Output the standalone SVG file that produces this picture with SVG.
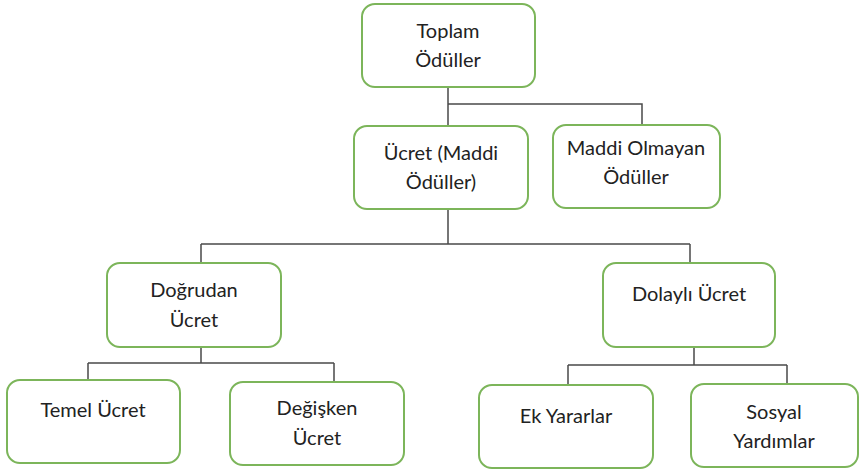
<svg xmlns="http://www.w3.org/2000/svg" width="860" height="472" viewBox="0 0 860 472">
  <style>
    .box { fill: #ffffff; stroke: #7cb55a; stroke-width: 2; }
    .lbl { font-family: Lato, "Open Sans", "Liberation Sans", sans-serif; font-size: 20px; fill: #222222; text-anchor: middle; }
    .wire { fill: none; stroke: #4a4a4a; stroke-width: 1.5; }
  </style>
  <rect width="860" height="472" fill="#ffffff"/>

  <g id="connectors">
    <path class="wire" d="M448 87 V126 M448 104 H642 V125"/>
    <path class="wire" d="M448 209 V244 M201 244 H690 M201 244 V263 M690 244 V263"/>
    <path class="wire" d="M201 347 V363 M88 363 H334 M88 363 V380 M334 363 V382"/>
    <path class="wire" d="M694 347 V365 M568 365 H787 M568 365 V385 M787 365 V384"/>
  </g>

  <g id="toplam">
    <rect class="box" x="362" y="4" width="173" height="83" rx="13"/>
    <text class="lbl" x="448" y="38">Toplam</text>
    <text class="lbl" x="448" y="67">Ödüller</text>
  </g>

  <g id="ucret">
    <rect class="box" x="354" y="126" width="174" height="83" rx="13"/>
    <text class="lbl" x="441" y="160">Ücret (Maddi</text>
    <text class="lbl" x="441" y="189">Ödüller)</text>
  </g>

  <g id="maddi-olmayan">
    <rect class="box" x="553" y="125" width="167" height="83" rx="13"/>
    <text class="lbl" x="636" y="155">Maddi Olmayan</text>
    <text class="lbl" x="636" y="184">Ödüller</text>
  </g>

  <g id="dogrudan">
    <rect class="box" x="107" y="263" width="174" height="84" rx="13"/>
    <text class="lbl" x="194" y="297">Doğrudan</text>
    <text class="lbl" x="194" y="327">Ücret</text>
  </g>

  <g id="dolayli">
    <rect class="box" x="603" y="263" width="172" height="84" rx="13"/>
    <text class="lbl" x="689" y="301">Dolaylı Ücret</text>
  </g>

  <g id="temel">
    <rect class="box" x="7" y="380" width="173" height="83" rx="13"/>
    <text class="lbl" x="93" y="417">Temel Ücret</text>
  </g>

  <g id="degisken">
    <rect class="box" x="230" y="382" width="174" height="83" rx="13"/>
    <text class="lbl" x="317" y="415">Değişken</text>
    <text class="lbl" x="317" y="445">Ücret</text>
  </g>

  <g id="ek-yararlar">
    <rect class="box" x="479" y="385" width="174" height="83" rx="13"/>
    <text class="lbl" x="566" y="423">Ek Yararlar</text>
  </g>

  <g id="sosyal">
    <rect class="box" x="691" y="384" width="167" height="83" rx="13"/>
    <text class="lbl" x="774" y="419">Sosyal</text>
    <text class="lbl" x="774" y="448">Yardımlar</text>
  </g>
</svg>
